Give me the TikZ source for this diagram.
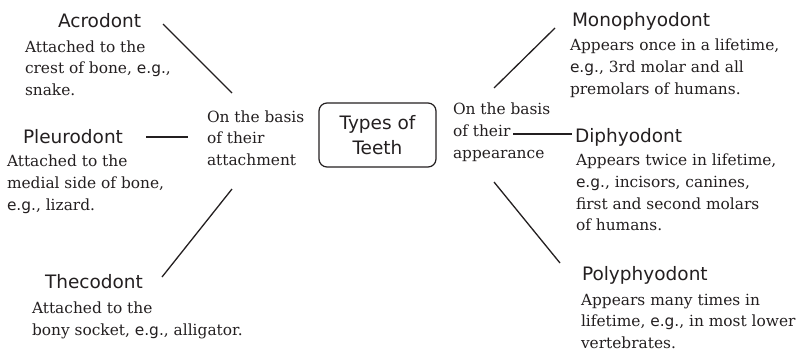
\documentclass[tikz,border=0pt]{standalone}
\usepackage{fontspec}
\setmainfont{DejaVu Serif}
\setsansfont{DejaVu Sans}
\definecolor{ink}{HTML}{231F20}
\newcommand{\eg}{{\sffamily e.g.}}
\begin{document}
\begin{tikzpicture}[x=1pt,y=-1pt,
  every node/.style={inner sep=0pt,outer sep=0pt,text=ink},
  head/.style={anchor=base west,font=\sffamily\fontsize{18.5}{22}\selectfont},
  % multi-line blocks are placed by the baseline of their last line
  body/.style={anchor=base west,align=left,font=\fontsize{15.4}{21.8}\selectfont},
  link/.style={draw=ink,line width=1.3pt},
  hub/.style={draw=ink,line width=1.2pt,rounded corners=8pt,minimum width=117pt,
    minimum height=64pt,align=center,font=\sffamily\fontsize{18.5}{25}\selectfont}]
\useasboundingbox (0,0) rectangle (799,354);

% central node
\node[hub] (types) at (377.5,135) {Types of\\Teeth};

% basis labels
\node[body] (attach) at (207,165.6) {On the basis\\of their\\attachment};
\node[body] (appear) at (453,158.1) {On the basis\\of their\\appearance};

% attachment types
\node[head] (acro) at (58,27) {Acrodont};
\node[body] (acrotxt) at (25,95.6) {Attached to the\\crest of bone, \eg,\\snake.};
\node[head] (pleuro) at (23,143) {Pleurodont};
\node[body] (pleurotxt) at (7,210.1) {Attached to the\\medial side of bone,\\\eg, lizard.};
\node[head] (theco) at (45,288) {Thecodont};
\node[body] (thecotxt) at (32,335.5) {Attached to the\\bony socket, \eg, alligator.};

% appearance types
\node[head] (mono) at (572,26) {Monophyodont};
\node[body] (monotxt) at (570,94.5) {Appears once in a lifetime,\\\eg, 3rd molar and all\\premolars of humans.};
\node[head] (di) at (575,142) {Diphyodont};
\node[body] (ditxt) at (576,230.9) {Appears twice in lifetime,\\\eg, incisors, canines,\\first and second molars\\of humans.};
\node[head] (poly) at (582,280) {Polyphyodont};
\node[body] (polytxt) at (581,348.6) {Appears many times in\\lifetime, \eg, in most lower\\vertebrates.};

% connector ends
\coordinate (acroA) at (163,24);
\coordinate (acroB) at (232,93);
\coordinate (pleuroA) at (146,137);
\coordinate (pleuroB) at (188,137);
\coordinate (thecoA) at (162,277);
\coordinate (thecoB) at (232,189);
\coordinate (monoA) at (494,88);
\coordinate (monoB) at (555,28);
\coordinate (diA) at (513,134);
\coordinate (diB) at (572,134);
\coordinate (polyA) at (494,182);
\coordinate (polyB) at (560,263);

% connectors
\draw[link] (acroA) -- (acroB);
\draw[link] (pleuroA) -- (pleuroB);
\draw[link] (thecoA) -- (thecoB);
\draw[link] (monoA) -- (monoB);
\draw[link] (diA) -- (diB);
\draw[link] (polyA) -- (polyB);
\end{tikzpicture}
\end{document}
